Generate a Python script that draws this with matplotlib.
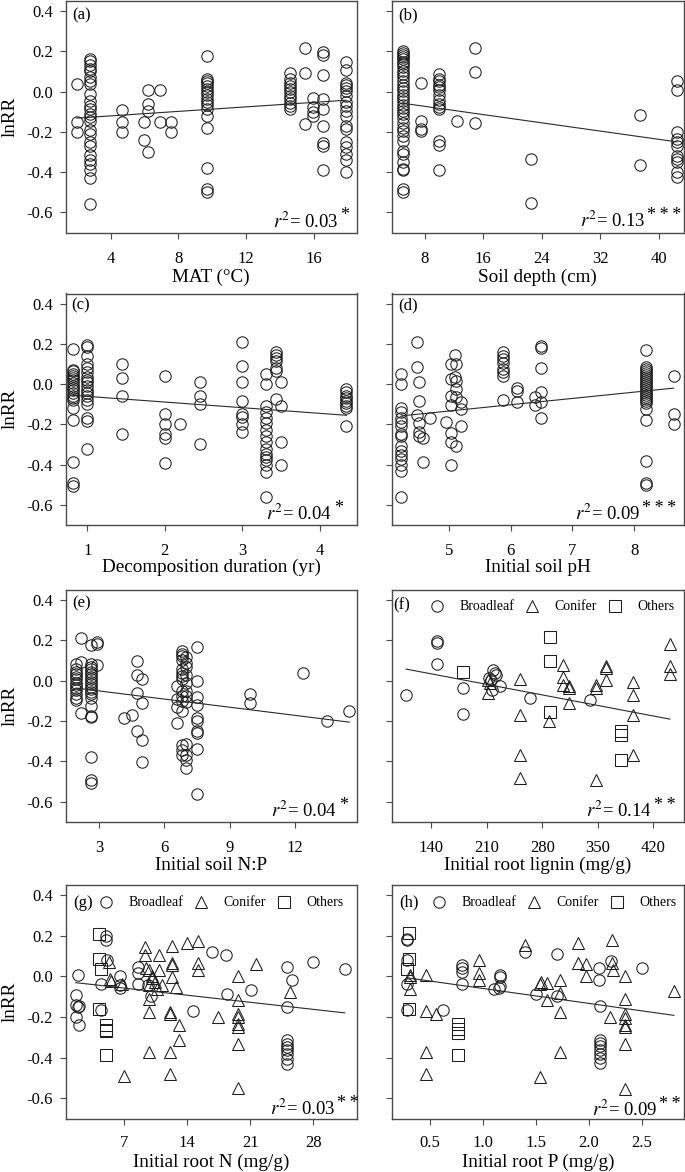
import numpy as np
import matplotlib
matplotlib.use('Agg')
import matplotlib.pyplot as plt
from matplotlib.ticker import FixedLocator, FormatStrFormatter

plt.rcParams['font.family'] = ['Liberation Serif', 'DejaVu Serif']
plt.rcParams['mathtext.fontset'] = 'stix'
plt.rcParams['axes.unicode_minus'] = False

W, H = 685, 1172

# ---------------- data ----------------
# (a) MAT
a_x = [2.0, 2.8, 4.7, 6.0, 6.2, 6.9, 7.6, 9.7, 14.6, 15.5, 15.95, 16.55, 17.9]
a_y = [
    [0.04, -0.15, -0.20],
    [0.16, 0.15, 0.13, 0.11, 0.10, 0.07, 0.055, 0.04, -0.01, -0.045, -0.07, -0.085, -0.11,
     -0.125, -0.145, -0.19, -0.21, -0.25, -0.27, -0.315, -0.34, -0.36, -0.39, -0.43, -0.56],
    [-0.09, -0.15, -0.20],
    [-0.15, -0.24],
    [0.01, -0.06, -0.095, -0.30],
    [0.01, -0.15],
    [-0.15, -0.20],
    [0.175, 0.065, 0.055, 0.045, 0.03, 0.015, 0.0, -0.015, -0.035, -0.05, -0.065, -0.085,
     -0.12, -0.18, -0.38, -0.485, -0.50],
    [0.09, 0.065, 0.045, 0.03, 0.015, 0.0, -0.02, -0.035, -0.055, -0.07, -0.085],
    [0.215, 0.09, -0.16],
    [-0.03, -0.075, -0.10, -0.12],
    [0.195, 0.18, 0.08, -0.035, -0.085, -0.17, -0.255, -0.27, -0.39],
    [0.145, 0.105, 0.045, 0.035, 0.02, 0.005, -0.02, -0.05, -0.07, -0.095, -0.12, -0.17,
     -0.185, -0.25, -0.275, -0.31, -0.34, -0.40],
]
a_fit_x = [2.0, 17.9]
a_fit_y = [-0.132, -0.043]

# (b) Soil depth
b_x = [5.0, 7.45, 9.96, 12.4, 14.9, 22.5, 37.45, 42.5]
b_y = [
    [0.20, 0.19, 0.18, 0.17, 0.16, 0.145, 0.135, 0.12, 0.10, 0.085, 0.07, 0.055, 0.035, 0.02,
     0.005, -0.015, -0.03, -0.045, -0.065, -0.08, -0.095, -0.11, -0.13, -0.155, -0.18, -0.195,
     -0.22, -0.245, -0.295, -0.31, -0.35, -0.385, -0.39, -0.485, -0.50],
    [0.045, -0.145, -0.185, -0.195],
    [0.085, 0.065, 0.055, 0.035, 0.025, 0.01, -0.015, -0.04, -0.06, -0.075, -0.085, -0.245,
     -0.265, -0.39],
    [-0.145],
    [0.215, 0.095, -0.155],
    [-0.335, -0.555],
    [-0.115, -0.365],
    [0.055, 0.01, -0.20, -0.235, -0.25, -0.27, -0.32, -0.335, -0.35, -0.40, -0.425],
]
b_fit_x = [5.0, 42.5]
b_fit_y = [-0.058, -0.25]

# (c) Decomposition duration
c_x = [0.82, 1.0, 1.45, 2.0, 2.2, 2.45, 3.0, 3.3, 3.43, 3.5, 4.34]
c_y = [
    [0.175, 0.07, 0.065, 0.05, 0.04, 0.03, 0.02, 0.005, -0.01, -0.02, -0.03, -0.045, -0.06,
     -0.07, -0.08, -0.12, -0.18, -0.385, -0.49, -0.505],
    [0.195, 0.185, 0.14, 0.10, 0.08, 0.06, 0.035, 0.02, 0.01, -0.01, -0.03, -0.045, -0.06,
     -0.08, -0.10, -0.17, -0.185, -0.32],
    [0.10, 0.03, -0.06, -0.25],
    [0.04, -0.15, -0.20, -0.25, -0.27, -0.39],
    [-0.20],
    [0.01, -0.06, -0.10, -0.30],
    [0.21, 0.09, 0.01, -0.085, -0.15, -0.165, -0.20, -0.24],
    [0.05, 0.0, -0.11, -0.14, -0.17, -0.195, -0.23, -0.26, -0.29, -0.32, -0.345, -0.36,
     -0.375, -0.40, -0.435, -0.56],
    [0.16, 0.145, 0.13, 0.115, 0.08, 0.065, -0.075],
    [0.01, -0.11, -0.29, -0.40],
    [-0.025, -0.04, -0.06, -0.07, -0.085, -0.095, -0.11, -0.12, -0.21],
]
c_fit_x = [0.82, 4.34]
c_fit_y = [-0.056, -0.155]

# (d) Initial soil pH
d_x = [4.23, 4.49, 4.52, 4.58, 4.7, 4.96, 5.04, 5.1, 5.12, 5.19, 5.88, 6.1, 6.4, 6.5, 8.2, 8.64]
d_y = [
    [0.05, 0.0, -0.12, -0.14, -0.17, -0.19, -0.21, -0.25, -0.26, -0.31, -0.33, -0.35, -0.37,
     -0.40, -0.43, -0.56],
    [0.21, 0.085, -0.155],
    [0.01, -0.085, -0.195, -0.24, -0.26],
    [-0.27, -0.385],
    [-0.17],
    [-0.19],
    [0.10, 0.025, -0.06, -0.105, -0.245, -0.29, -0.40],
    [0.145, 0.035],
    [0.10, 0.015, -0.025, -0.065, -0.31],
    [-0.09, -0.125, -0.21],
    [0.16, 0.14, 0.125, 0.105, 0.075, 0.06, 0.04, -0.08],
    [-0.02, -0.035, -0.09],
    [-0.065, -0.105],
    [0.19, 0.18, 0.08, -0.04, -0.09, -0.17],
    [0.17, 0.085, 0.075, 0.065, 0.055, 0.045, 0.035, 0.025, 0.015, 0.005, -0.005, -0.015,
     -0.025, -0.035, -0.045, -0.055, -0.065, -0.075, -0.085, -0.095, -0.125, -0.18, -0.38,
     -0.49, -0.50],
    [0.04, -0.15, -0.20],
]
d_fit_x = [4.23, 8.64]
d_fit_y = [-0.158, -0.02]

# (e) Initial soil N:P
e_x = [1.93, 2.16, 2.6, 2.88, 4.13, 4.53, 4.75, 4.95, 6.56, 6.8, 7.0, 7.48, 9.93, 12.38, 13.46, 14.5]
e_y = [
    [0.085, 0.06, 0.045, 0.035, 0.02, 0.01, -0.01, -0.02, -0.035, -0.045, -0.065, -0.085, -0.095],
    [0.21, 0.095, -0.16],
    [0.175, 0.085, 0.07, 0.06, 0.045, 0.035, 0.02, 0.01, -0.005, -0.015, -0.03, -0.04, -0.055,
     -0.065, -0.085, -0.125, -0.175, -0.18, -0.38, -0.49, -0.505],
    [0.19, 0.18, 0.08],
    [-0.185],
    [-0.17],
    [0.10, 0.03, -0.06, -0.25],
    [0.01, -0.11, -0.295, -0.405],
    [-0.025, -0.09, -0.13, -0.21],
    [0.15, 0.135, 0.125, 0.105, 0.06, 0.04, 0.025, 0.01, -0.05, -0.075, -0.10, -0.15, -0.32,
     -0.345, -0.37],
    [0.12, 0.09, 0.07, 0.03, -0.01, -0.05, -0.075, -0.105, -0.315, -0.37, -0.395, -0.43],
    [0.165, 0.0, -0.08, -0.12, -0.185, -0.20, -0.25, -0.26, -0.34, -0.56],
    [-0.065, -0.11],
    [0.04],
    [-0.20],
    [-0.15],
]
e_fit_x = [1.93, 14.5]
e_fit_y = [-0.036, -0.205]

# (f) Initial root lignin
f_broad_x = [108, 147, 147, 147, 180, 180, 213, 215, 218, 220, 222, 226, 217, 264, 340]
f_broad_y = [-0.07, 0.195, 0.186, 0.084, -0.036, -0.165, 0.013, 0.005, 0.054, 0.041, 0.03,
             -0.025, -0.045, -0.086, -0.097]
f_conif_x = [212, 212, 214, 252, 252, 252, 252, 289, 306, 306, 306, 314, 314, 314, 348, 348,
             348, 361, 361, 361, 395, 395, 395, 395, 441, 441, 441]
f_conif_y = [0.005, -0.06, -0.01, 0.01, -0.168, -0.37, -0.482, -0.20, 0.079, 0.021, -0.02,
             -0.025, -0.036, -0.11, -0.02, -0.036, -0.49, 0.071, 0.063, 0.005, -0.008, -0.069,
             -0.168, -0.37, 0.182, 0.071, 0.033]
f_other_x = [180, 290, 290, 290, 379, 379, 379]
f_other_y = [0.043, 0.216, 0.096, -0.155, -0.25, -0.267, -0.391]
f_fit_x = [108, 441]
f_fit_y = [0.058, -0.19]

# (g) Initial root N
g_broad_x = [1.89, 1.63, 1.63, 1.7, 1.85, 2.0, 2.0, 4.41, 4.48, 4.96, 4.96, 5.11, 6.59, 6.59,
             6.59, 8.56, 8.56, 8.56, 9.67, 9.93, 14.6, 16.74, 18.3, 18.37, 21.04, 25.04, 25.04,
             25.04, 25.04, 25.04, 25.04, 25.04, 25.04, 25.04, 25.6, 28.0, 31.5]
g_broad_y = [0.008, -0.093, -0.20, -0.143, -0.15, -0.148, -0.241, -0.039, -0.167, 0.197, 0.18,
             0.082, 0.0, -0.044, -0.056, 0.046, 0.016, -0.039, -0.044, -0.098, -0.17, 0.12,
             0.107, -0.089, -0.069, 0.046, -0.151, -0.315, -0.331, -0.348, -0.364, -0.384,
             -0.405, -0.43, -0.02, 0.07, 0.038]
g_conif_x = [5.33, 5.4, 5.59, 6.8, 6.96, 9.3, 9.3, 9.48, 9.78, 9.78, 9.78, 9.78, 9.78, 10.04,
             10.04, 10.4, 10.6, 10.89, 10.89, 11.15, 12.07, 12.07, 12.07, 12.07, 12.37, 12.37,
             12.37, 12.37, 12.8, 13.1, 13.1, 14.0, 15.22, 15.22, 15.22, 17.44, 19.67, 19.67,
             19.67, 19.67, 19.67, 19.67, 19.67, 19.67, 21.63, 25.4]
g_conif_y = [0.07, -0.011, -0.025, -0.036, -0.49, 0.144, 0.103, 0.043, 0.03, -0.044, -0.11,
             -0.175, -0.372, -0.01, 0.0, -0.03, -0.06, 0.103, 0.03, -0.044, -0.175, -0.187,
             -0.372, -0.482, 0.152, 0.066, 0.054, -0.003, -0.052, -0.238, -0.311, 0.164, 0.174,
             0.066, 0.03, -0.20, 0.0, -0.115, -0.184, -0.20, -0.236, -0.249, -0.331, -0.552,
             0.062, -0.077]
g_other_x = [4.22, 4.22, 4.48, 4.22, 4.96, 4.96, 4.96, 4.96]
g_other_y = [0.207, 0.087, 0.038, -0.159, -0.24, -0.262, -0.27, -0.389]
g_fit_x = [1.63, 31.5]
g_fit_y = [-0.031, -0.18]

# (h) Initial root P
h_broad_x = [0.287, 0.287, 0.287, 0.287, 0.287, 0.626, 0.805, 0.805, 0.805, 0.805, 1.103, 1.166,
             1.166, 1.166, 1.15, 1.401, 1.505, 1.70, 1.70, 2.092, 2.092, 2.10, 2.10, 2.10, 2.10,
             2.10, 2.10, 2.10, 2.10, 2.208, 2.5]
h_broad_y = [0.186, 0.177, 0.082, -0.039, -0.164, -0.167, 0.057, 0.043, 0.021, -0.036, -0.064,
             0.005, -0.003, -0.049, -0.056, 0.12, -0.089, 0.108, -0.099, 0.043, -0.02, -0.148,
             -0.312, -0.328, -0.345, -0.361, -0.381, -0.401, -0.427, 0.076, 0.041]
h_conif_x = [0.312, 0.312, 0.312, 0.469, 0.469, 0.469, 0.469, 0.563, 0.961, 0.961, 0.961, 1.401,
             1.536, 1.55, 1.536, 1.605, 1.605, 1.724, 1.724, 1.724, 1.724, 1.894, 1.894, 1.976,
             1.976, 2.195, 2.217, 2.217, 2.226, 2.343, 2.343, 2.343, 2.343, 2.343, 2.343, 2.343,
             2.343, 2.798]
h_conif_y = [0.005, -0.005, -0.061, 0.005, -0.171, -0.373, -0.483, -0.184, 0.079, 0.016, -0.02,
             0.153, -0.036, -0.028, -0.496, -0.033, -0.115, -0.016, -0.082, -0.176, -0.373,
             0.164, 0.066, 0.062, 0.0, -0.20, 0.177, 0.066, 0.03, 0.0, -0.11, -0.187, -0.204,
             -0.241, -0.25, -0.332, -0.553, -0.072]
h_other_x = [0.303, 0.303, 0.287, 0.303, 0.764, 0.764, 0.764, 0.764]
h_other_y = [0.213, 0.087, 0.034, -0.159, -0.236, -0.258, -0.279, -0.389]
h_fit_x = [0.287, 2.798]
h_fit_y = [-0.007, -0.192]

r2_values = ['0.03', '0.13', '0.04', '0.09', '0.04', '0.14', '0.03', '0.09']
r2_stars = ['*', '***', '*', '***', '*', '**', '**', '**']
panel_tags = ['(a)', '(b)', '(c)', '(d)', '(e)', '(f)', '(g)', '(h)']
x_labels = ['MAT (\u00b0C)', 'Soil depth (cm)', 'Decomposition duration (yr)', 'Initial soil pH',
            'Initial soil N:P', 'Initial root lignin (mg/g)', 'Initial root N (mg/g)',
            'Initial root P (mg/g)']
x_ticks = [[4, 8, 12, 16], [8, 16, 24, 32, 40], [1, 2, 3, 4], [5, 6, 7, 8], [3, 6, 9, 12],
           [140, 210, 280, 350, 420], [7, 14, 21, 28], [0.5, 1.0, 1.5, 2.0, 2.5]]
y_ticks = [-0.6, -0.4, -0.2, 0.0, 0.2, 0.4]
legend_labels = ['Broadleaf', 'Conifer', 'Others']

# ---------------- layout (pixels) ----------------
col_lr = [(65.5, 356.5), (392.0, 683.5)]
rows = [  # top, bottom, tick-label centre, xlabel centre
    (1.0, 232.5, 256.7, 277.0),
    (293.5, 525.0, 548.3, 567.0),
    (590.0, 822.0, 845.0, 865.0),
    (885.0, 1118.5, 1140.5, 1162.0),
]
xlims = [(1.34, 18.54), (3.52, 43.37), (0.72, 4.47), (4.08, 8.8), (1.45, 14.83),
         (90.2, 458.3), (0.49, 32.8), (0.146, 2.889)]
ylim = (-0.7, 0.45)
xfmts = ['%d', '%d', '%d', '%d', '%d', '%d', '%d', '%.1f']
tag_pos = [(72, 15), (398, 15), (71, 305), (398, 305), (72, 603), (393, 605), (73, 903), (399, 902)]
# (right end of "r2= value", left of stars, baseline)
r2_pos = [(338, 340, 227.5), (645, 647, 227), (332, 334, 520.5), (640, 642, 520),
          (337, 339, 817), (652, 654, 817), (335, 337, 1115), (657, 659, 1116)]
legend_pos = {5: (429, 607), 6: (98, 903), 7: (431, 903)}

fig = plt.figure(figsize=(W / 100, H / 100), dpi=100)
fig.patch.set_facecolor('white')

FS_TICK = 12
FS_LAB = 13.8
EDGE = '#1e1e1e'
SPINE = '#4a4a4a'
TICKLEN_PX = 6
pt = 72 / 100.0


def flat(xs, ys):
    fx, fy = [], []
    for x, col in zip(xs, ys):
        fx.extend([x] * len(col))
        fy.extend(col)
    return np.array(fx), np.array(fy)


def fpos(x, y):
    return x / W, 1 - y / H


simple = [(a_x, a_y, a_fit_x, a_fit_y), (b_x, b_y, b_fit_x, b_fit_y),
          (c_x, c_y, c_fit_x, c_fit_y), (d_x, d_y, d_fit_x, d_fit_y),
          (e_x, e_y, e_fit_x, e_fit_y)]
grouped = {5: (f_broad_x, f_broad_y, f_conif_x, f_conif_y, f_other_x, f_other_y, f_fit_x, f_fit_y),
           6: (g_broad_x, g_broad_y, g_conif_x, g_conif_y, g_other_x, g_other_y, g_fit_x, g_fit_y),
           7: (h_broad_x, h_broad_y, h_conif_x, h_conif_y, h_other_x, h_other_y, h_fit_x, h_fit_y)}

mk = dict(ls='none', mfc='none', mec=EDGE, mew=0.75, ms=8.2)

for i in range(8):
    r, c = divmod(i, 2)
    left, right = col_lr[c]
    top, bottom, xt_c, xl_c = rows[r]
    ax = fig.add_axes([left / W, 1 - bottom / H, (right - left) / W, (bottom - top) / H])
    ax.set_xlim(*xlims[i])
    ax.set_ylim(*ylim)

    if i < 5:
        xs, ys, fx, fy = simple[i]
        px, py = flat(xs, ys)
        ax.plot(px, py, marker='o', **mk)
        ax.plot(fx, fy, color='#2a2a2a', lw=0.8)
    else:
        bx, by, cx, cy, ox, oy, fx, fy = grouped[i]
        hb, = ax.plot(bx, by, marker='o', **mk)
        hc, = ax.plot(cx, cy, marker='^', **mk)
        ho, = ax.plot(ox, oy, marker='s', **mk)
        ax.plot(fx, fy, color='#2a2a2a', lw=0.8)
        lx, ly = legend_pos[i]
        ax.legend([hb, hc, ho], legend_labels, ncol=3, loc='center left',
                  bbox_to_anchor=fpos(lx, ly), bbox_transform=fig.transFigure,
                  frameon=False, fontsize=10, borderpad=0, borderaxespad=0,
                  handlelength=1.2, handletextpad=1.0, columnspacing=0.7, numpoints=1)

    for s in ax.spines.values():
        s.set_color(SPINE)
        s.set_linewidth(1.0)

    ax.xaxis.set_major_locator(FixedLocator(x_ticks[i]))
    ax.xaxis.set_major_formatter(FormatStrFormatter(xfmts[i]))
    ax.yaxis.set_major_locator(FixedLocator(y_ticks))
    ax.yaxis.set_major_formatter(FormatStrFormatter('%.1f'))

    xpad_px = xt_c - 5.5 - (bottom + TICKLEN_PX)
    ax.tick_params(axis='x', direction='out', length=TICKLEN_PX * pt, width=0.8, color=SPINE,
                   labelsize=FS_TICK, pad=xpad_px * pt, top=False)
    ax.tick_params(axis='y', direction='out', length=TICKLEN_PX * pt, width=0.8, color=SPINE,
                   labelsize=FS_TICK, pad=6.7 * pt, right=False, labelleft=(c == 0))

    ax.set_xlabel(x_labels[i], fontsize=FS_LAB, va='center')
    ax.xaxis.set_label_coords(0.5, (bottom - xl_c) / (bottom - top))
    if c == 0:
        ax.set_ylabel('lnRR', fontsize=FS_LAB, va='center')
        ax.yaxis.set_label_coords((10 - left) / (right - left), 0.5)

    tx, ty = tag_pos[i]
    fig.text(*fpos(tx, ty), panel_tags[i], fontsize=12, ha='left', va='center')

    rx, sx, ry = r2_pos[i]
    fig.text(*fpos(rx, ry), r'$r^{2}$= ' + r2_values[i], fontsize=13.5, ha='right', va='baseline')
    fig.text(*fpos(sx, ry - 7), '\u2009'.join(r2_stars[i]), fontsize=13, ha='left',
             va='baseline')

fig.savefig('out.png', dpi=100, facecolor='white')
